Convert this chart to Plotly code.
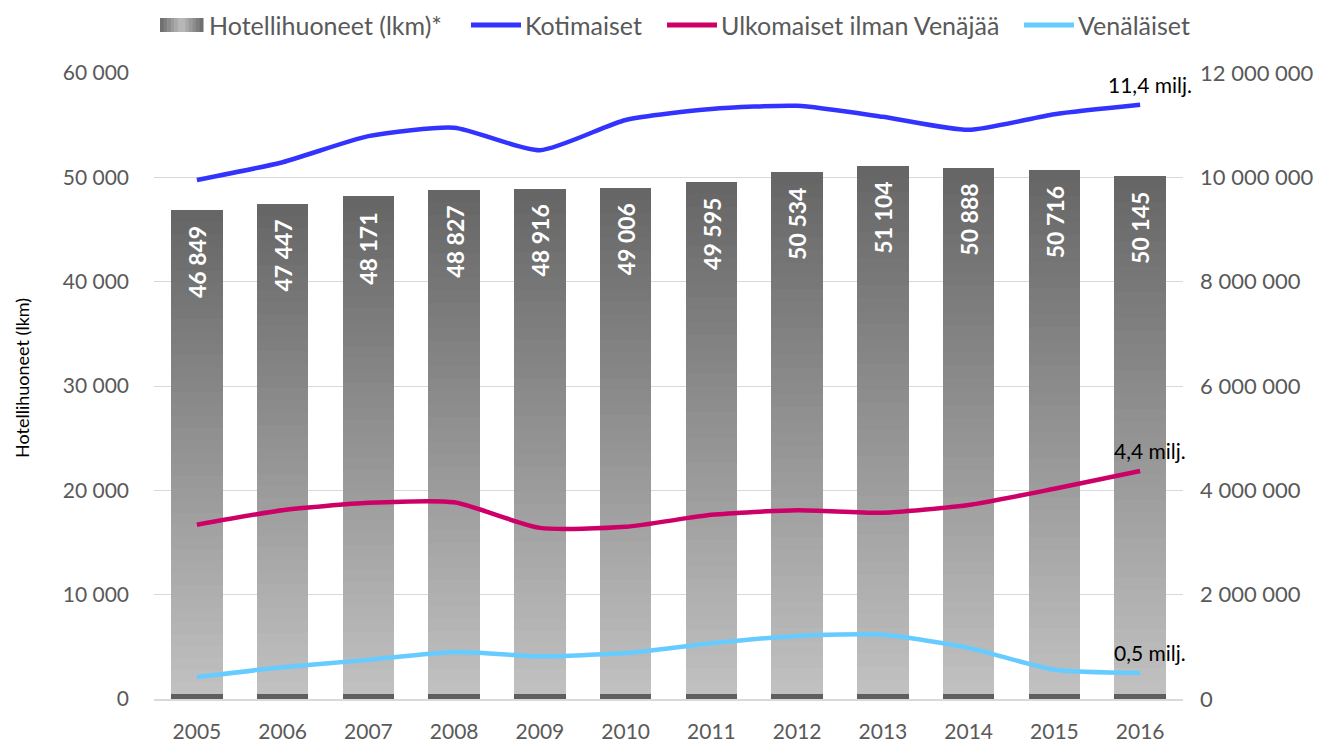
import plotly.graph_objects as go

years = ["2005", "2006", "2007", "2008", "2009", "2010", "2011", "2012", "2013", "2014", "2015", "2016"]
rooms = [46849, 47447, 48171, 48827, 48916, 49006, 49595, 50534, 51104, 50888, 50716, 50145]
room_labels = ["46 849", "47 447", "48 171", "48 827", "48 916", "49 006", "49 595", "50 534", "51 104", "50 888", "50 716", "50 145"]
kotimaiset = [9.95e6, 10.29e6, 10.79e6, 10.95e6, 10.52e6, 11.10e6, 11.31e6, 11.37e6, 11.16e6, 10.91e6, 11.21e6, 11.39e6]
ulkomaiset = [3.34e6, 3.62e6, 3.76e6, 3.77e6, 3.28e6, 3.30e6, 3.53e6, 3.62e6, 3.57e6, 3.72e6, 4.03e6, 4.37e6]
venalaiset = [0.42e6, 0.61e6, 0.75e6, 0.90e6, 0.82e6, 0.88e6, 1.07e6, 1.21e6, 1.23e6, 0.98e6, 0.56e6, 0.50e6]
end_labels = ["11,4 milj.", "4,4 milj.", "0,5 milj."]
bar_name = "Hotellihuoneet (lkm)*"
line_names = ["Kotimaiset", "Ulkomaiset ilman Venäjää", "Venäläiset"]
line_colors = ["#3333FF", "#CC0066", "#66CCFF"]

FONT = "Lato"
GREY = "#595959"
W, H = 1326, 744
L, R, T, B = 154, 143, 73, 45
PW, PH = W - L - R, H - T - B


def px_x(p):
    return (p - L) / PW


def px_y(p):
    return (H - B - p) / PH


fig = go.Figure()

# gradient bars: dark base strip + stacked gradient segments
N = 40
base_frac = 0.01
fig.add_trace(go.Bar(x=years, y=[v * base_frac for v in rooms], marker=dict(color="#5f5f5f", line=dict(width=0)),
                     showlegend=False, hoverinfo="skip"))
light = (192, 192, 192)
dark = (102, 102, 102)
for i in range(N):
    t = i / (N - 1)
    c = tuple(round(light[k] + (dark[k] - light[k]) * t) for k in range(3))
    fig.add_trace(go.Bar(
        x=years, y=[v * (1 - base_frac) / N for v in rooms],
        marker=dict(color="rgb(%d,%d,%d)" % c, line=dict(width=0)),
        name=bar_name, showlegend=False, hoverinfo="skip",
    ))

series = [kotimaiset, ulkomaiset, venalaiset]
for name, vals, col in zip(line_names, series, line_colors):
    fig.add_trace(go.Scatter(x=years, y=vals, name=name, mode="lines", yaxis="y2",
                             line=dict(color=col, width=4.5, shape="spline", smoothing=0.6),
                             showlegend=False))

annotations = []
for idx, (v, lab) in enumerate(zip(rooms, room_labels)):
    annotations.append(dict(x=idx, y=v, xref="x", yref="y", text="<b>%s</b>" % lab, textangle=-90,
                            showarrow=False, yanchor="top", yshift=-14,
                            font=dict(family=FONT, size=23, color="white")))
last = len(years) - 1
for vals, lab in zip(series, end_labels):
    annotations.append(dict(x=last, y=vals[-1], xref="x", yref="y2", text=lab, showarrow=False,
                            yanchor="bottom", yshift=6, xshift=10,
                            font=dict(family=FONT, size=21, color="black")))

# y-axis title
annotations.append(dict(x=px_x(22), y=px_y(378), xref="paper", yref="paper", text="Hotellihuoneet (lkm)",
                        textangle=-90, showarrow=False, xanchor="center", yanchor="middle",
                        font=dict(family=FONT, size=18, color="black")))

# manual legend
shapes = []
leg_y = px_y(25)
sq_x0, sq_x1 = 160, 203
nstrip = 12
for s in range(nstrip):
    a = sq_x0 + (sq_x1 - sq_x0) * s / nstrip
    b = sq_x0 + (sq_x1 - sq_x0) * (s + 1) / nstrip
    t = abs((s + 0.5) / nstrip - 0.5) * 2
    g = round(190 + (105 - 190) * t)
    shapes.append(dict(type="rect", xref="paper", yref="paper", x0=px_x(a), x1=px_x(b) + 0.0005,
                       y0=px_y(32), y1=px_y(18), fillcolor="rgb(%d,%d,%d)" % (g, g, g), line=dict(width=0)))
annotations.append(dict(x=px_x(207), y=leg_y, xref="paper", yref="paper", text=bar_name, showarrow=False,
                        xanchor="left", yanchor="middle", font=dict(family=FONT, size=25, color=GREY)))
line_pos = [(471, 521), (667, 717), (1024, 1074)]
for (a, b), name, col in zip(line_pos, line_names, line_colors):
    shapes.append(dict(type="line", xref="paper", yref="paper", x0=px_x(a), x1=px_x(b), y0=leg_y, y1=leg_y,
                       line=dict(color=col, width=5)))
    annotations.append(dict(x=px_x(b + 2), y=leg_y, xref="paper", yref="paper", text=name, showarrow=False,
                            xanchor="left", yanchor="middle", font=dict(family=FONT, size=25, color=GREY)))

fig.update_layout(
    width=W, height=H,
    barmode="stack", bargap=0.4,
    plot_bgcolor="white", paper_bgcolor="white",
    margin=dict(l=L, r=R, t=T, b=B, autoexpand=False),
    font=dict(family=FONT, size=22, color=GREY),
    showlegend=False,
    xaxis=dict(type="category", range=[-0.5, len(years) - 0.5], showgrid=False, showline=True,
               linecolor="#d9d9d9", linewidth=1.5, ticks="", ticklabelstandoff=13,
               tickfont=dict(size=21, color=GREY)),
    yaxis=dict(range=[0, 60000], dtick=10000, tickformat=",", gridcolor="#d9d9d9", gridwidth=1,
               zeroline=False, ticks="", ticklabelstandoff=24, tickfont=dict(size=21, color=GREY)),
    yaxis2=dict(range=[0, 12000000], dtick=2000000, overlaying="y", side="right", showgrid=False,
                zeroline=False, tickformat=",", ticks="", ticklabelstandoff=16,
                tickfont=dict(size=22, color=GREY)),
    separators=", ",
    annotations=annotations,
    shapes=shapes,
)

fig.write_html("out.html", config={"displayModeBar": False},
               post_script="document.body.style.margin='0';document.body.style.overflow='hidden';")
